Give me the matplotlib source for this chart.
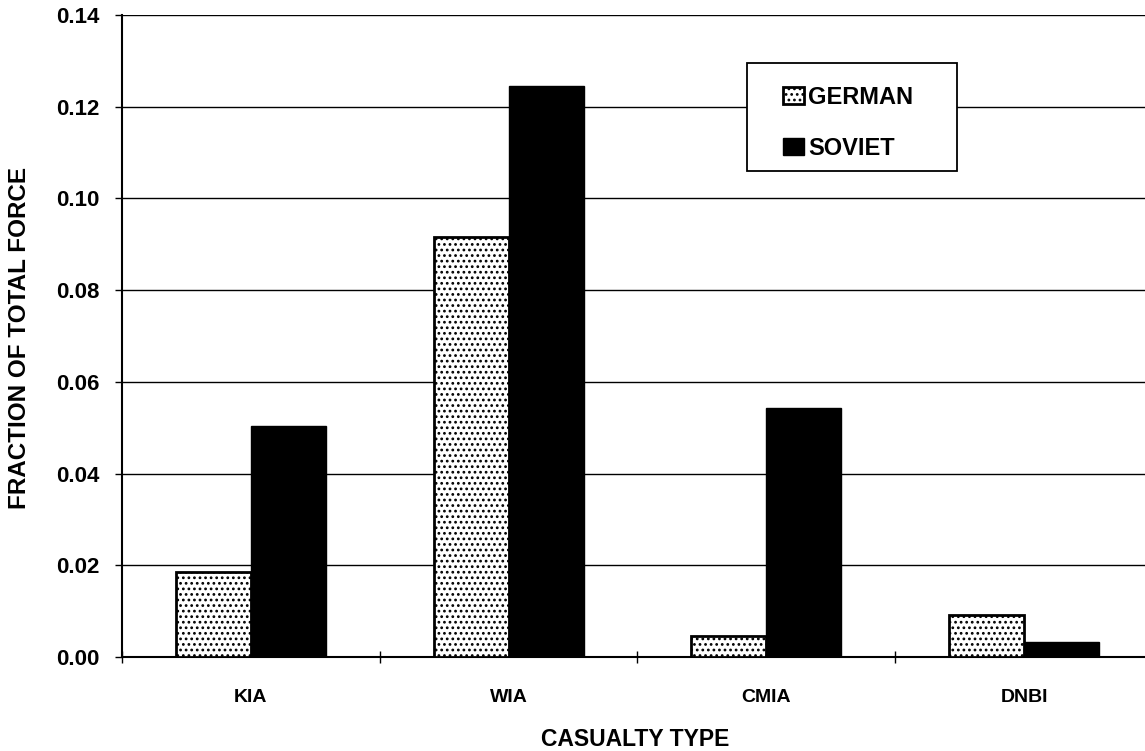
import matplotlib
matplotlib.use("Agg")
import matplotlib.pyplot as plt
from matplotlib.patches import Rectangle
import numpy as np

categories = ["KIA", "WIA", "CMIA", "DNBI"]
german = [0.0186, 0.0915, 0.0046, 0.0092]
soviet = [0.0504, 0.1246, 0.0543, 0.0033]
yticks = [0.00, 0.02, 0.04, 0.06, 0.08, 0.10, 0.12, 0.14]
series_names = ["GERMAN", "SOVIET"]

plt.rcParams['font.family'] = ['Liberation Sans', 'DejaVu Sans']
plt.rcParams['font.weight'] = 'bold'
plt.rcParams['hatch.linewidth'] = 1.2
plt.rcParams['hatch.color'] = '#444444'

W, H = 1145, 751
fig = plt.figure(figsize=(W / 100, H / 100), dpi=100)
left, right, top, bottom = 122, 1153, 15, 657
ax = fig.add_axes([left / W, (H - bottom) / H, (right - left) / W, (bottom - top) / H])

x = np.arange(len(categories))
bw = 0.291
ax.bar(x - bw / 2, german, bw, facecolor='white', edgecolor='black', linewidth=2,
       hatch='...', zorder=3, label=series_names[0])
ax.bar(x + bw / 2, soviet, bw, facecolor='black', edgecolor='black', linewidth=1,
       zorder=3, label=series_names[1])

ax.set_xlim(-0.5, len(categories) - 0.5)
ax.set_ylim(0, 0.14)
ax.set_yticks(yticks)
ax.set_yticklabels([f"{v:.2f}" for v in yticks], fontsize=16, fontweight='bold')
ax.yaxis.grid(True, color='black', linewidth=1.0, zorder=0)
ax.set_axisbelow(True)

ax.set_xticks(x)
ax.set_xticklabels(categories, fontsize=14, fontweight='bold')
ax.set_xticks(np.arange(len(categories) + 1) - 0.5, minor=True)
ax.tick_params(axis='x', which='major', length=0, pad=23)
ax.tick_params(axis='x', which='minor', length=8, direction='inout', width=1, color='black')
ax.tick_params(axis='y', which='major', length=5, direction='out', width=1, pad=11)

for s in ['top', 'right']:
    ax.spines[s].set_visible(False)
ax.spines['left'].set_linewidth(1.5)
ax.spines['bottom'].set_linewidth(1.5)

fig.text(635 / W, 1 - 739 / H, "CASUALTY TYPE", fontsize=16.5, fontweight='bold',
         ha='center', va='center')
fig.text(20 / W, 1 - 338 / H, "FRACTION OF TOTAL FORCE", fontsize=17.5, fontweight='bold',
         ha='center', va='center', rotation=90)

# legend frame box
box = Rectangle((747 / W, 1 - 171 / H), 210 / W, 108 / H, transform=fig.transFigure,
                facecolor='white', edgecolor='black', linewidth=1.3, zorder=4, clip_on=False)
ax.add_patch(box)

leg = ax.legend(loc='upper left', bbox_to_anchor=(783 / W, 1 - 86 / H),
                bbox_transform=fig.transFigure, frameon=False,
                prop={'weight': 'bold', 'size': 17},
                handlelength=0.89, handleheight=0.7, handletextpad=0.17,
                labelspacing=1.17, borderpad=0, borderaxespad=0)
leg.set_zorder(5)

fig.savefig("out.png", dpi=100)
